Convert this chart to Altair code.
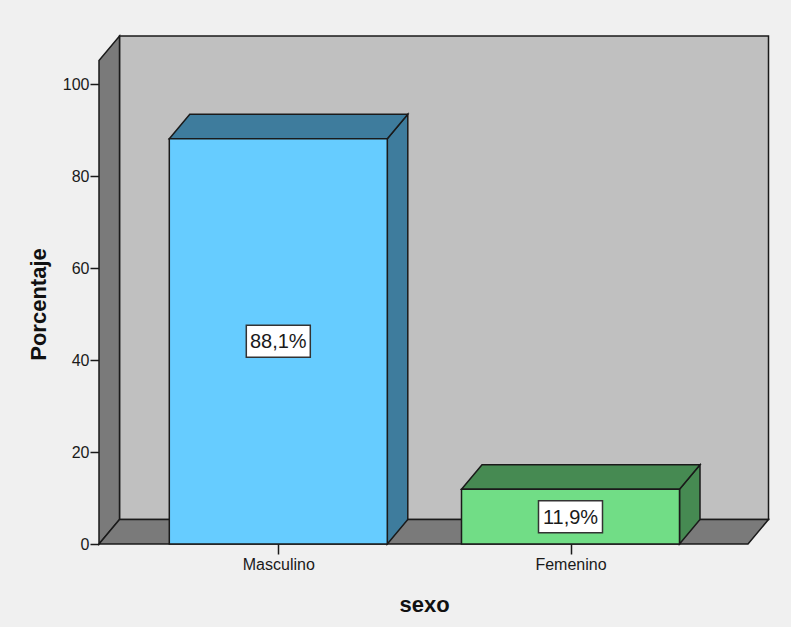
import altair as alt
import pandas as pd

# ---- data ----
categories = ["Masculino", "Femenino"]
percent = [88.1, 11.9]
y_ticks = [0, 20, 40, 60, 80, 100]

# ---- styles ----
front_colors = ["#66ccff", "#71dd86"]
side_colors = ["#3e7c9d", "#468a52"]
WALL_BACK = "#c0c0c0"
WALL_SIDE = "#7a7a7a"
EDGE = "#1a1a1a"
FONT = "Liberation Sans"

# ---- geometry (pixel layout of the 3D frame) ----
W, H = 670, 508
PX_PER_CAT = 292.2
PX_PER_PCT = 4.6
XMIN = -179.3 / PX_PER_CAT
XMAX = XMIN + W / PX_PER_CAT
YMAX = H / PX_PER_PCT
DX = 20.5 / PX_PER_CAT
DY = 24.5 / PX_PER_PCT
HW = 109.0 / PX_PER_CAT
FLOOR_R = XMIN + 649 / PX_PER_CAT
WALL_TOP = YMAX - DY
BOX_HW = 32 / PX_PER_CAT
BOX_HH = 16 / PX_PER_PCT

xs = alt.Scale(domain=[XMIN, XMAX], nice=False, zero=False)
ys = alt.Scale(domain=[0, YMAX], nice=False, zero=False)

label_list = "[" + ",".join("'%s'" % c for c in categories) + "]"
X_AXIS = alt.Axis(
    values=list(range(len(categories))),
    labelExpr=label_list + "[datum.value]",
    title="sexo", titleFont=FONT, titleFontSize=22, titleFontWeight="bold",
    titleColor="#111111", titleX=325, titleY=67, titleAlign="center",
    titleBaseline="alphabetic", domain=False, grid=False,
    tickSize=10, tickWidth=1.5, tickColor=EDGE,
    labelFont=FONT, labelFontSize=16, labelColor="#1a1a1a", labelPadding=2,
)
Y_AXIS = alt.Axis(
    values=y_ticks, format="d",
    title="Porcentaje", titleFont=FONT, titleFontSize=22, titleFontWeight="bold",
    titleColor="#111111", titleAngle=270, titleX=-54, titleY=268,
    titleAlign="center", titleBaseline="alphabetic",
    domain=False, grid=False, tickSize=9, tickWidth=1.5, tickColor=EDGE,
    labelFont=FONT, labelFontSize=16, labelColor="#1a1a1a", labelPadding=1,
)


def X(f):
    return alt.X(f, type="quantitative", scale=xs, axis=X_AXIS)


def Y(f):
    return alt.Y(f, type="quantitative", scale=ys, axis=Y_AXIS)


# back wall
back_df = pd.DataFrame({"x": [XMIN + DX], "x2": [FLOOR_R + DX], "y": [DY], "y2": [YMAX]})
back = alt.Chart(back_df).mark_rect(fill=WALL_BACK, stroke=EDGE, strokeWidth=1.5).encode(
    x=X("x"), x2="x2", y=Y("y"), y2="y2")

# side wall
side_df = pd.DataFrame({"x": [XMIN, XMIN + DX], "y": [0, DY], "y2": [WALL_TOP, YMAX]})
side = alt.Chart(side_df).mark_area(orient="vertical", fill=WALL_SIDE, stroke=EDGE,
                                    strokeWidth=1.5, opacity=1).encode(
    x=X("x"), y=Y("y"), y2="y2")

# floor
floor_df = pd.DataFrame({
    "x": [XMIN, XMIN + DX, FLOOR_R, FLOOR_R + DX],
    "y": [0, 0, 0, DY],
    "y2": [0, DY, DY, DY],
})
floor = alt.Chart(floor_df).mark_area(orient="vertical", fill=WALL_SIDE, stroke=EDGE,
                                      strokeWidth=1.5, opacity=1).encode(
    x=X("x"), y=Y("y"), y2="y2")

# bars
bar_rows, side_rows, top_rows, lab_rows = [], [], [], []
for i, (c, v) in enumerate(zip(categories, percent)):
    x0, x1 = i - HW, i + HW
    bar_rows.append({"cat": c, "x": x0, "x2": x1, "y": 0, "y2": v, "fill": front_colors[i]})
    side_rows += [
        {"cat": c, "x": x1, "y": 0, "y2": v, "fill": side_colors[i]},
        {"cat": c, "x": x1 + DX, "y": DY, "y2": v + DY, "fill": side_colors[i]},
    ]
    top_rows += [
        {"cat": c, "x": x0, "y": v, "y2": v, "fill": side_colors[i]},
        {"cat": c, "x": x0 + DX, "y": v, "y2": v + DY, "fill": side_colors[i]},
        {"cat": c, "x": x1, "y": v, "y2": v + DY, "fill": side_colors[i]},
        {"cat": c, "x": x1 + DX, "y": v + DY, "y2": v + DY, "fill": side_colors[i]},
    ]
    lab_rows.append({"cat": c, "xc": i, "yc": v / 2, "x": i - BOX_HW, "x2": i + BOX_HW,
                     "y": v / 2 - BOX_HH, "y2": v / 2 + BOX_HH,
                     "label": ("%.1f" % v).replace(".", ",") + "%"})

bar_df = pd.DataFrame(bar_rows)
side_bar_df = pd.DataFrame(side_rows)
top_df = pd.DataFrame(top_rows)
lab_df = pd.DataFrame(lab_rows)

fronts = alt.Chart(bar_df).mark_rect(stroke=EDGE, strokeWidth=1.5).encode(
    x=X("x"), x2="x2", y=Y("y"), y2="y2", fill=alt.Fill("fill:N", scale=None))
bar_sides = alt.Chart(side_bar_df).mark_area(orient="vertical", stroke=EDGE, strokeWidth=1.5,
                                             opacity=1).encode(
    x=X("x"), y=Y("y"), y2="y2", detail="cat:N", fill=alt.Fill("fill:N", scale=None))
bar_tops = alt.Chart(top_df).mark_area(orient="vertical", stroke=EDGE, strokeWidth=1.5,
                                       opacity=1).encode(
    x=X("x"), y=Y("y"), y2="y2", detail="cat:N", fill=alt.Fill("fill:N", scale=None))

boxes = alt.Chart(lab_df).mark_rect(fill="white", stroke="#333333", strokeWidth=1.5).encode(
    x=X("x"), x2="x2", y=Y("y"), y2="y2")
texts = alt.Chart(lab_df).mark_text(font=FONT, fontSize=20, color="#1a1a1a",
                                    baseline="middle", align="center", dy=1).encode(
    x=X("xc"), y=Y("yc"), text="label:N")

chart = alt.layer(back, side, floor, bar_sides, bar_tops, fronts, boxes, texts).properties(
    width=W, height=H,
    autosize=alt.AutoSizeParams(type="none"),
    padding={"left": 99, "top": 36, "right": 791 - 99 - W, "bottom": 627 - 36 - H},
    background="#f0f0f0",
).configure_view(stroke=None)

chart.save("out.html", embed_options={"renderer": "svg", "actions": False})
